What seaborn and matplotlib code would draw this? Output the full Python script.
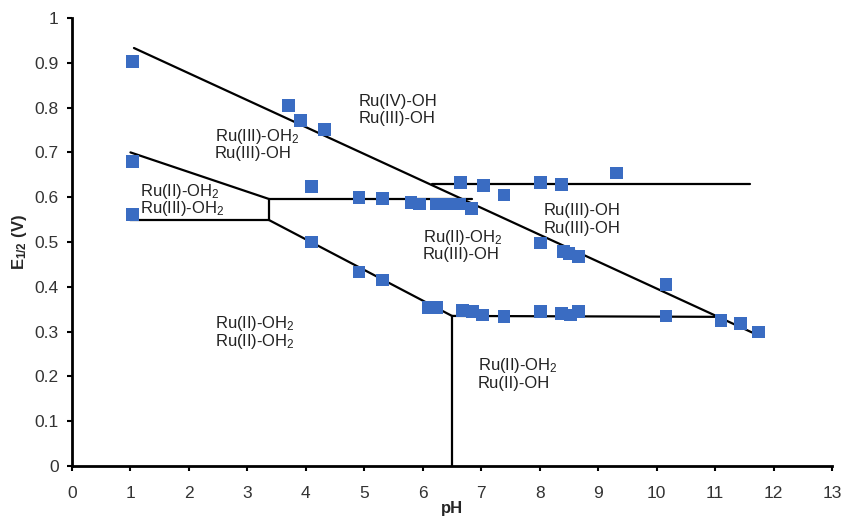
import seaborn as sns
import pandas as pd
import matplotlib
matplotlib.use("Agg")
import matplotlib.pyplot as plt

ph = [1.04, 1.04, 1.04, 3.71, 3.91, 4.32, 4.10, 4.10,
      4.91, 5.31, 5.80, 5.95, 6.24, 6.46, 6.63, 6.83,
      6.65, 7.04, 7.39, 8.02, 8.37, 9.31,
      4.91, 5.31, 8.02, 8.41, 8.50, 8.67,
      6.09, 6.24, 6.68, 6.85, 7.02, 7.39, 8.02, 8.37, 8.53, 8.67,
      10.16, 10.16, 11.10, 11.43, 11.74]
e_half = [0.902, 0.679, 0.562, 0.804, 0.772, 0.752, 0.623, 0.500,
          0.600, 0.598, 0.589, 0.585, 0.585, 0.585, 0.585, 0.574,
          0.632, 0.627, 0.605, 0.632, 0.629, 0.654,
          0.433, 0.415, 0.498, 0.478, 0.475, 0.467,
          0.353, 0.353, 0.348, 0.344, 0.337, 0.333, 0.344, 0.341, 0.337, 0.344,
          0.406, 0.335, 0.324, 0.319, 0.299]

# boundary lines of the Pourbaix diagram (x pairs, y pairs)
segments = [
    ([1.06, 11.8], [0.933, 0.288]),
    ([6.15, 11.6], [0.629, 0.629]),
    ([3.37, 6.85], [0.596, 0.596]),
    ([1.0, 3.37], [0.700, 0.596]),
    ([3.37, 3.37], [0.596, 0.549]),
    ([1.0, 3.37], [0.549, 0.549]),
    ([3.37, 6.5], [0.549, 0.335]),
    ([6.5, 11.0], [0.335, 0.333]),
    ([6.5, 6.5], [0.0, 0.335]),
]

# region labels: left x, first line baseline y, two lines each
label_x = [4.90, 2.44, 1.16, 6.00, 8.07, 2.44, 6.94]
label_y = [0.804, 0.726, 0.603, 0.500, 0.560, 0.308, 0.214]
label_top = ["Ru(IV)-OH", "Ru(III)-OH$_2$", "Ru(II)-OH$_2$", "Ru(II)-OH$_2$",
             "Ru(III)-OH", "Ru(II)-OH$_2$", "Ru(II)-OH$_2$"]
label_bottom = ["Ru(III)-OH", "Ru(III)-OH", "Ru(III)-OH$_2$", "Ru(III)-OH",
                "Ru(III)-OH", "Ru(II)-OH$_2$", "Ru(II)-OH"]

sns.set_style("ticks")
plt.rcParams["font.family"] = ["Liberation Sans", "DejaVu Sans"]
plt.rcParams["mathtext.fontset"] = "custom"
plt.rcParams["mathtext.rm"] = "Liberation Sans"
plt.rcParams["mathtext.it"] = "Liberation Sans"
plt.rcParams["mathtext.bf"] = "Liberation Sans:bold"

df = pd.DataFrame({"pH": ph, "E": e_half})

fig = plt.figure(figsize=(8.51, 5.20), dpi=100)
ax = fig.add_axes([0.0846, 0.1038, 0.8931, 0.8616])

for xs, ys in segments:
    ax.plot(xs, ys, color="black", lw=1.6, zorder=2)

sns.scatterplot(data=df, x="pH", y="E", marker="s", s=85, color="#3a6cc2",
                edgecolor="none", ax=ax, zorder=3)

for x, y, t1, t2 in zip(label_x, label_y, label_top, label_bottom):
    ax.text(x, y, t1, fontsize=12, color="#222222", ha="left", va="baseline")
    ax.text(x, y - 0.039, t2, fontsize=12, color="#222222", ha="left",
            va="baseline")

ax.set_xlim(0, 13)
ax.set_ylim(0, 1)
ax.set_xticks(range(0, 14))
ax.set_yticks([i / 10 for i in range(11)])
ax.set_yticklabels(["0"] + ["0.%d" % i for i in range(1, 10)] + ["1"])
ax.tick_params(axis="both", labelsize=12.5, direction="out", length=3.5, width=1.5,
               colors="black", labelcolor="#333333", pad=6)
ax.tick_params(axis="x", pad=11)
for s in ["left", "bottom"]:
    ax.spines[s].set_linewidth(2)
    ax.spines[s].set_color("black")
sns.despine(ax=ax)

ax.set_xlabel("pH", fontsize=12, fontweight="bold", labelpad=0)
ax.set_ylabel(r"$\mathbf{E_{1/2}}$ (V)", fontsize=12, fontweight="bold", labelpad=4)

fig.savefig("out.png", dpi=100)
